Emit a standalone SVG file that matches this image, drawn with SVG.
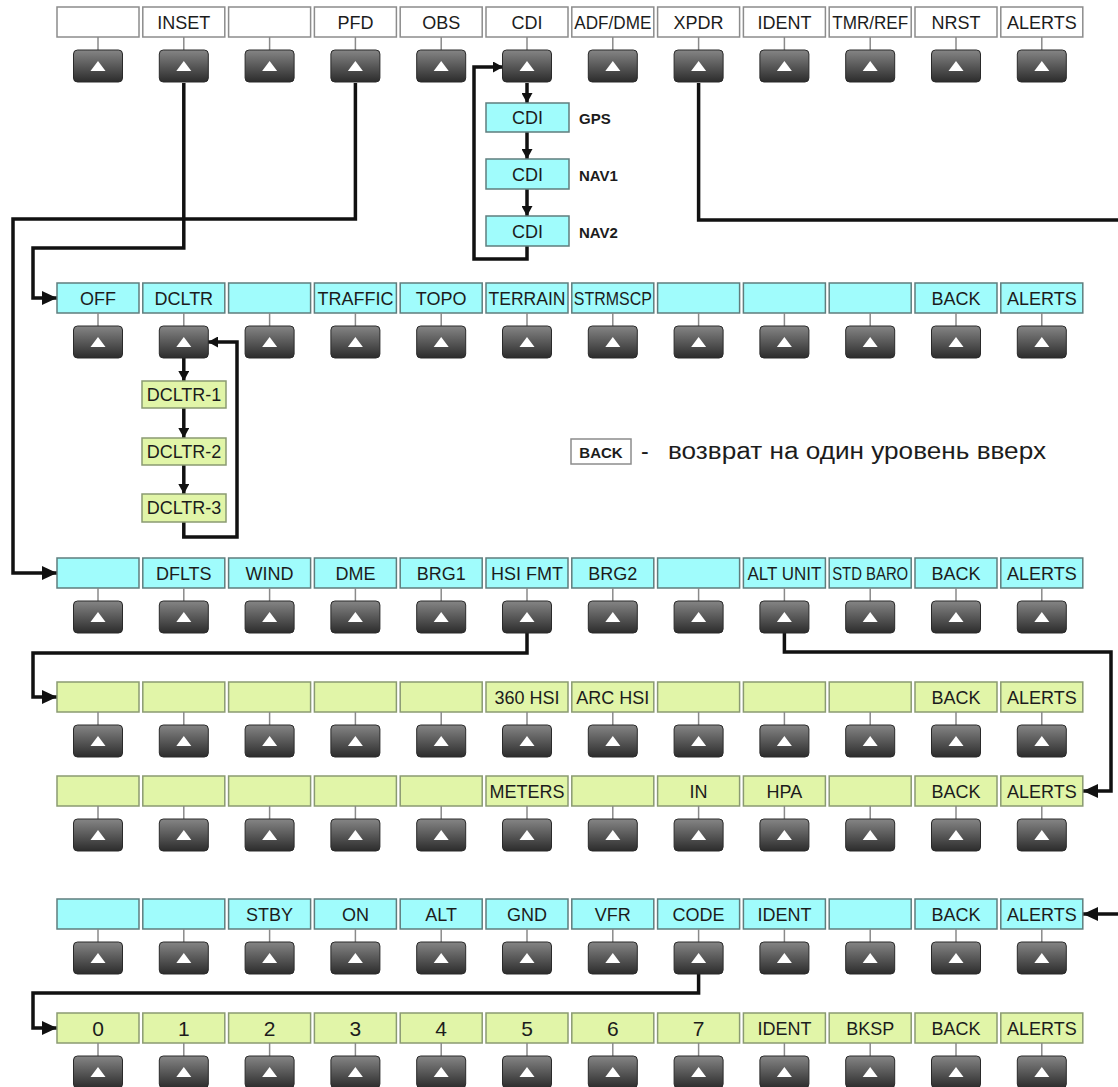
<svg xmlns="http://www.w3.org/2000/svg" xmlns:xlink="http://www.w3.org/1999/xlink" width="1118" height="1087" viewBox="0 0 1118 1087">
<style>
.lb{stroke:#7d8a8a;stroke-width:1.5}
.w{fill:#ffffff;stroke:#8c8c8c}
.c{fill:#a0fcfc;stroke:#5f7d7d}
.g{fill:#e1f5a8;stroke:#8a9a72}
text{font-family:"Liberation Sans",Arial,sans-serif;font-size:18px;fill:#1c1c1c;text-anchor:middle}
text.d{font-size:21px}
text.s{font-size:15px;font-weight:bold;text-anchor:start}
text.lg{font-size:23px;text-anchor:start}
.stick{stroke:#8a8a8a;stroke-width:1.5}
.cn{fill:none;stroke:#111;stroke-width:3.5;stroke-linejoin:miter}
</style>
<defs>
<linearGradient id="bg" x1="0" y1="0" x2="0" y2="1">
<stop offset="0" stop-color="#858585"/>
<stop offset="1" stop-color="#2c2c2c"/>
</linearGradient>
<g id="btn">
<line class="stick" x1="0" y1="0" x2="0" y2="13"/>
<rect x="-24.5" y="13" width="49" height="32" rx="4" fill="url(#bg)" stroke="#2a2a2a" stroke-width="1"/>
<path d="M-7.5,34 L7.5,34 L0,24 Z" fill="#ffffff"/>
</g>
<marker id="ah" markerUnits="userSpaceOnUse" markerWidth="16" markerHeight="14" refX="15" refY="7" orient="auto"><path d="M0,0 L15,7 L0,14 Z" fill="#111"/></marker>
<marker id="ahs" markerUnits="userSpaceOnUse" markerWidth="11" markerHeight="11" refX="10" refY="5.5" orient="auto"><path d="M0,0 L10,5.5 L0,11 Z" fill="#111"/></marker>
</defs>
<rect width="1118" height="1087" fill="#ffffff"/>

<g id="connectors">
<path class="cn" d="M183.8,83 V248 H33 V298 H57" marker-end="url(#ah)"/>
<path class="cn" d="M355.4,83 V219 H13 V573 H57" marker-end="url(#ah)"/>
<path class="cn" d="M698.6,83 V220 H1118"/>
<path class="cn" d="M527,83 V103" marker-end="url(#ahs)"/>
<path class="cn" d="M527,132 V159" marker-end="url(#ahs)"/>
<path class="cn" d="M527,189 V216" marker-end="url(#ahs)"/>
<path class="cn" d="M527,246 V259 H474 V67 H503" marker-end="url(#ahs)"/>
<path class="cn" d="M183.8,358 V381" marker-end="url(#ahs)"/>
<path class="cn" d="M183.8,408 V438" marker-end="url(#ahs)"/>
<path class="cn" d="M183.8,465 V494" marker-end="url(#ahs)"/>
<path class="cn" d="M183.8,522 V537 H237 V342 H208" marker-end="url(#ahs)"/>
<path class="cn" d="M527,633 V653 H33 V697 H57" marker-end="url(#ah)"/>
<path class="cn" d="M784.4,633 V652 H1111 V791 H1083" marker-end="url(#ah)"/>
<path class="cn" d="M698.6,974 V993 H33 V1028 H57" marker-end="url(#ah)"/>
<path class="cn" d="M1118,914 H1083" marker-end="url(#ah)"/>
</g>

<!-- Row 1 -->
<g id="r1c0"><rect class="lb w" x="57" y="7" width="82" height="30"/><use href="#btn" x="98" y="37"/></g>
<g id="r1c1"><rect class="lb w" x="142.8" y="7" width="82" height="30"/><text x="183.8" y="29">INSET</text><use href="#btn" x="183.8" y="37"/></g>
<g id="r1c2"><rect class="lb w" x="228.6" y="7" width="82" height="30"/><use href="#btn" x="269.6" y="37"/></g>
<g id="r1c3"><rect class="lb w" x="314.4" y="7" width="82" height="30"/><text x="355.4" y="29">PFD</text><use href="#btn" x="355.4" y="37"/></g>
<g id="r1c4"><rect class="lb w" x="400.2" y="7" width="82" height="30"/><text x="441.2" y="29">OBS</text><use href="#btn" x="441.2" y="37"/></g>
<g id="r1c5"><rect class="lb w" x="486" y="7" width="82" height="30"/><text x="527" y="29">CDI</text><use href="#btn" x="527" y="37"/></g>
<g id="r1c6"><rect class="lb w" x="571.8" y="7" width="82" height="30"/><text x="612.8" y="29" textLength="77" lengthAdjust="spacingAndGlyphs">ADF/DME</text><use href="#btn" x="612.8" y="37"/></g>
<g id="r1c7"><rect class="lb w" x="657.6" y="7" width="82" height="30"/><text x="698.6" y="29">XPDR</text><use href="#btn" x="698.6" y="37"/></g>
<g id="r1c8"><rect class="lb w" x="743.4" y="7" width="82" height="30"/><text x="784.4" y="29">IDENT</text><use href="#btn" x="784.4" y="37"/></g>
<g id="r1c9"><rect class="lb w" x="829.2" y="7" width="82" height="30"/><text x="870.2" y="29" textLength="76" lengthAdjust="spacingAndGlyphs">TMR/REF</text><use href="#btn" x="870.2" y="37"/></g>
<g id="r1c10"><rect class="lb w" x="915" y="7" width="82" height="30"/><text x="956" y="29">NRST</text><use href="#btn" x="956" y="37"/></g>
<g id="r1c11"><rect class="lb w" x="1000.8" y="7" width="82" height="30"/><text x="1041.8" y="29">ALERTS</text><use href="#btn" x="1041.8" y="37"/></g>

<!-- CDI sub boxes -->
<g id="cdi-gps"><rect class="lb c" x="486" y="103" width="83" height="29"/><text x="527.5" y="124">CDI</text><text class="s" x="579" y="124">GPS</text></g>
<g id="cdi-nav1"><rect class="lb c" x="486" y="159" width="83" height="30"/><text x="527.5" y="181">CDI</text><text class="s" x="579" y="181">NAV1</text></g>
<g id="cdi-nav2"><rect class="lb c" x="486" y="216" width="83" height="30"/><text x="527.5" y="238">CDI</text><text class="s" x="579" y="238">NAV2</text></g>

<!-- Row 2 -->
<g id="r2c0"><rect class="lb c" x="57" y="283" width="82" height="30"/><text x="98" y="305">OFF</text><use href="#btn" x="98" y="313"/></g>
<g id="r2c1"><rect class="lb c" x="142.8" y="283" width="82" height="30"/><text x="183.8" y="305">DCLTR</text><use href="#btn" x="183.8" y="313"/></g>
<g id="r2c2"><rect class="lb c" x="228.6" y="283" width="82" height="30"/><use href="#btn" x="269.6" y="313"/></g>
<g id="r2c3"><rect class="lb c" x="314.4" y="283" width="82" height="30"/><text x="355.4" y="305">TRAFFIC</text><use href="#btn" x="355.4" y="313"/></g>
<g id="r2c4"><rect class="lb c" x="400.2" y="283" width="82" height="30"/><text x="441.2" y="305">TOPO</text><use href="#btn" x="441.2" y="313"/></g>
<g id="r2c5"><rect class="lb c" x="486" y="283" width="82" height="30"/><text x="527" y="305" textLength="77" lengthAdjust="spacingAndGlyphs">TERRAIN</text><use href="#btn" x="527" y="313"/></g>
<g id="r2c6"><rect class="lb c" x="571.8" y="283" width="82" height="30"/><text x="612.8" y="305" textLength="78" lengthAdjust="spacingAndGlyphs">STRMSCP</text><use href="#btn" x="612.8" y="313"/></g>
<g id="r2c7"><rect class="lb c" x="657.6" y="283" width="82" height="30"/><use href="#btn" x="698.6" y="313"/></g>
<g id="r2c8"><rect class="lb c" x="743.4" y="283" width="82" height="30"/><use href="#btn" x="784.4" y="313"/></g>
<g id="r2c9"><rect class="lb c" x="829.2" y="283" width="82" height="30"/><use href="#btn" x="870.2" y="313"/></g>
<g id="r2c10"><rect class="lb c" x="915" y="283" width="82" height="30"/><text x="956" y="305">BACK</text><use href="#btn" x="956" y="313"/></g>
<g id="r2c11"><rect class="lb c" x="1000.8" y="283" width="82" height="30"/><text x="1041.8" y="305">ALERTS</text><use href="#btn" x="1041.8" y="313"/></g>

<!-- DCLTR sub boxes -->
<g id="dcltr-1"><rect class="lb g" x="142" y="381" width="84" height="27"/><text x="184" y="401">DCLTR-1</text></g>
<g id="dcltr-2"><rect class="lb g" x="142" y="438" width="84" height="27"/><text x="184" y="458">DCLTR-2</text></g>
<g id="dcltr-3"><rect class="lb g" x="142" y="494" width="84" height="28"/><text x="184" y="514">DCLTR-3</text></g>

<!-- Legend -->
<g id="legend">
<rect class="lb w" x="571" y="439" width="60" height="25"/>
<text x="601" y="457.5" style="font-size:15px;font-weight:bold">BACK</text>
<text class="lg" x="641" y="459">-</text>
<text class="lg" x="668" y="459" textLength="378" lengthAdjust="spacingAndGlyphs">возврат на один уровень вверх</text>
</g>

<!-- Row 3 -->
<g id="r3c0"><rect class="lb c" x="57" y="558" width="82" height="30"/><use href="#btn" x="98" y="588"/></g>
<g id="r3c1"><rect class="lb c" x="142.8" y="558" width="82" height="30"/><text x="183.8" y="580">DFLTS</text><use href="#btn" x="183.8" y="588"/></g>
<g id="r3c2"><rect class="lb c" x="228.6" y="558" width="82" height="30"/><text x="269.6" y="580">WIND</text><use href="#btn" x="269.6" y="588"/></g>
<g id="r3c3"><rect class="lb c" x="314.4" y="558" width="82" height="30"/><text x="355.4" y="580">DME</text><use href="#btn" x="355.4" y="588"/></g>
<g id="r3c4"><rect class="lb c" x="400.2" y="558" width="82" height="30"/><text x="441.2" y="580">BRG1</text><use href="#btn" x="441.2" y="588"/></g>
<g id="r3c5"><rect class="lb c" x="486" y="558" width="82" height="30"/><text x="527" y="580">HSI FMT</text><use href="#btn" x="527" y="588"/></g>
<g id="r3c6"><rect class="lb c" x="571.8" y="558" width="82" height="30"/><text x="612.8" y="580">BRG2</text><use href="#btn" x="612.8" y="588"/></g>
<g id="r3c7"><rect class="lb c" x="657.6" y="558" width="82" height="30"/><use href="#btn" x="698.6" y="588"/></g>
<g id="r3c8"><rect class="lb c" x="743.4" y="558" width="82" height="30"/><text x="784.4" y="580" textLength="74" lengthAdjust="spacingAndGlyphs">ALT UNIT</text><use href="#btn" x="784.4" y="588"/></g>
<g id="r3c9"><rect class="lb c" x="829.2" y="558" width="82" height="30"/><text x="870.2" y="580" textLength="76" lengthAdjust="spacingAndGlyphs">STD BARO</text><use href="#btn" x="870.2" y="588"/></g>
<g id="r3c10"><rect class="lb c" x="915" y="558" width="82" height="30"/><text x="956" y="580">BACK</text><use href="#btn" x="956" y="588"/></g>
<g id="r3c11"><rect class="lb c" x="1000.8" y="558" width="82" height="30"/><text x="1041.8" y="580">ALERTS</text><use href="#btn" x="1041.8" y="588"/></g>

<!-- Row 4 -->
<g id="r4c0"><rect class="lb g" x="57" y="682" width="82" height="30"/><use href="#btn" x="98" y="712"/></g>
<g id="r4c1"><rect class="lb g" x="142.8" y="682" width="82" height="30"/><use href="#btn" x="183.8" y="712"/></g>
<g id="r4c2"><rect class="lb g" x="228.6" y="682" width="82" height="30"/><use href="#btn" x="269.6" y="712"/></g>
<g id="r4c3"><rect class="lb g" x="314.4" y="682" width="82" height="30"/><use href="#btn" x="355.4" y="712"/></g>
<g id="r4c4"><rect class="lb g" x="400.2" y="682" width="82" height="30"/><use href="#btn" x="441.2" y="712"/></g>
<g id="r4c5"><rect class="lb g" x="486" y="682" width="82" height="30"/><text x="527" y="704">360 HSI</text><use href="#btn" x="527" y="712"/></g>
<g id="r4c6"><rect class="lb g" x="571.8" y="682" width="82" height="30"/><text x="612.8" y="704">ARC HSI</text><use href="#btn" x="612.8" y="712"/></g>
<g id="r4c7"><rect class="lb g" x="657.6" y="682" width="82" height="30"/><use href="#btn" x="698.6" y="712"/></g>
<g id="r4c8"><rect class="lb g" x="743.4" y="682" width="82" height="30"/><use href="#btn" x="784.4" y="712"/></g>
<g id="r4c9"><rect class="lb g" x="829.2" y="682" width="82" height="30"/><use href="#btn" x="870.2" y="712"/></g>
<g id="r4c10"><rect class="lb g" x="915" y="682" width="82" height="30"/><text x="956" y="704">BACK</text><use href="#btn" x="956" y="712"/></g>
<g id="r4c11"><rect class="lb g" x="1000.8" y="682" width="82" height="30"/><text x="1041.8" y="704">ALERTS</text><use href="#btn" x="1041.8" y="712"/></g>

<!-- Row 5 -->
<g id="r5c0"><rect class="lb g" x="57" y="776" width="82" height="30"/><use href="#btn" x="98" y="806"/></g>
<g id="r5c1"><rect class="lb g" x="142.8" y="776" width="82" height="30"/><use href="#btn" x="183.8" y="806"/></g>
<g id="r5c2"><rect class="lb g" x="228.6" y="776" width="82" height="30"/><use href="#btn" x="269.6" y="806"/></g>
<g id="r5c3"><rect class="lb g" x="314.4" y="776" width="82" height="30"/><use href="#btn" x="355.4" y="806"/></g>
<g id="r5c4"><rect class="lb g" x="400.2" y="776" width="82" height="30"/><use href="#btn" x="441.2" y="806"/></g>
<g id="r5c5"><rect class="lb g" x="486" y="776" width="82" height="30"/><text x="527" y="798">METERS</text><use href="#btn" x="527" y="806"/></g>
<g id="r5c6"><rect class="lb g" x="571.8" y="776" width="82" height="30"/><use href="#btn" x="612.8" y="806"/></g>
<g id="r5c7"><rect class="lb g" x="657.6" y="776" width="82" height="30"/><text x="698.6" y="798">IN</text><use href="#btn" x="698.6" y="806"/></g>
<g id="r5c8"><rect class="lb g" x="743.4" y="776" width="82" height="30"/><text x="784.4" y="798">HPA</text><use href="#btn" x="784.4" y="806"/></g>
<g id="r5c9"><rect class="lb g" x="829.2" y="776" width="82" height="30"/><use href="#btn" x="870.2" y="806"/></g>
<g id="r5c10"><rect class="lb g" x="915" y="776" width="82" height="30"/><text x="956" y="798">BACK</text><use href="#btn" x="956" y="806"/></g>
<g id="r5c11"><rect class="lb g" x="1000.8" y="776" width="82" height="30"/><text x="1041.8" y="798">ALERTS</text><use href="#btn" x="1041.8" y="806"/></g>

<!-- Row 6 -->
<g id="r6c0"><rect class="lb c" x="57" y="899" width="82" height="30"/><use href="#btn" x="98" y="929"/></g>
<g id="r6c1"><rect class="lb c" x="142.8" y="899" width="82" height="30"/><use href="#btn" x="183.8" y="929"/></g>
<g id="r6c2"><rect class="lb c" x="228.6" y="899" width="82" height="30"/><text x="269.6" y="921">STBY</text><use href="#btn" x="269.6" y="929"/></g>
<g id="r6c3"><rect class="lb c" x="314.4" y="899" width="82" height="30"/><text x="355.4" y="921">ON</text><use href="#btn" x="355.4" y="929"/></g>
<g id="r6c4"><rect class="lb c" x="400.2" y="899" width="82" height="30"/><text x="441.2" y="921">ALT</text><use href="#btn" x="441.2" y="929"/></g>
<g id="r6c5"><rect class="lb c" x="486" y="899" width="82" height="30"/><text x="527" y="921">GND</text><use href="#btn" x="527" y="929"/></g>
<g id="r6c6"><rect class="lb c" x="571.8" y="899" width="82" height="30"/><text x="612.8" y="921">VFR</text><use href="#btn" x="612.8" y="929"/></g>
<g id="r6c7"><rect class="lb c" x="657.6" y="899" width="82" height="30"/><text x="698.6" y="921">CODE</text><use href="#btn" x="698.6" y="929"/></g>
<g id="r6c8"><rect class="lb c" x="743.4" y="899" width="82" height="30"/><text x="784.4" y="921">IDENT</text><use href="#btn" x="784.4" y="929"/></g>
<g id="r6c9"><rect class="lb c" x="829.2" y="899" width="82" height="30"/><use href="#btn" x="870.2" y="929"/></g>
<g id="r6c10"><rect class="lb c" x="915" y="899" width="82" height="30"/><text x="956" y="921">BACK</text><use href="#btn" x="956" y="929"/></g>
<g id="r6c11"><rect class="lb c" x="1000.8" y="899" width="82" height="30"/><text x="1041.8" y="921">ALERTS</text><use href="#btn" x="1041.8" y="929"/></g>

<!-- Row 7 -->
<g id="r7c0"><rect class="lb g" x="57" y="1013" width="82" height="30"/><text class="d" x="98" y="1036">0</text><use href="#btn" x="98" y="1043"/></g>
<g id="r7c1"><rect class="lb g" x="142.8" y="1013" width="82" height="30"/><text class="d" x="183.8" y="1036">1</text><use href="#btn" x="183.8" y="1043"/></g>
<g id="r7c2"><rect class="lb g" x="228.6" y="1013" width="82" height="30"/><text class="d" x="269.6" y="1036">2</text><use href="#btn" x="269.6" y="1043"/></g>
<g id="r7c3"><rect class="lb g" x="314.4" y="1013" width="82" height="30"/><text class="d" x="355.4" y="1036">3</text><use href="#btn" x="355.4" y="1043"/></g>
<g id="r7c4"><rect class="lb g" x="400.2" y="1013" width="82" height="30"/><text class="d" x="441.2" y="1036">4</text><use href="#btn" x="441.2" y="1043"/></g>
<g id="r7c5"><rect class="lb g" x="486" y="1013" width="82" height="30"/><text class="d" x="527" y="1036">5</text><use href="#btn" x="527" y="1043"/></g>
<g id="r7c6"><rect class="lb g" x="571.8" y="1013" width="82" height="30"/><text class="d" x="612.8" y="1036">6</text><use href="#btn" x="612.8" y="1043"/></g>
<g id="r7c7"><rect class="lb g" x="657.6" y="1013" width="82" height="30"/><text class="d" x="698.6" y="1036">7</text><use href="#btn" x="698.6" y="1043"/></g>
<g id="r7c8"><rect class="lb g" x="743.4" y="1013" width="82" height="30"/><text x="784.4" y="1035">IDENT</text><use href="#btn" x="784.4" y="1043"/></g>
<g id="r7c9"><rect class="lb g" x="829.2" y="1013" width="82" height="30"/><text x="870.2" y="1035">BKSP</text><use href="#btn" x="870.2" y="1043"/></g>
<g id="r7c10"><rect class="lb g" x="915" y="1013" width="82" height="30"/><text x="956" y="1035">BACK</text><use href="#btn" x="956" y="1043"/></g>
<g id="r7c11"><rect class="lb g" x="1000.8" y="1013" width="82" height="30"/><text x="1041.8" y="1035">ALERTS</text><use href="#btn" x="1041.8" y="1043"/></g>
</svg>
